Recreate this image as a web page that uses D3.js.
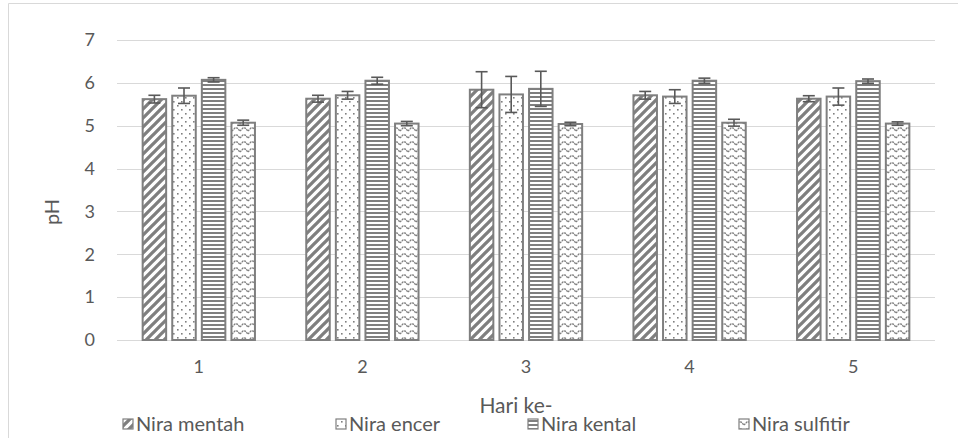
<!DOCTYPE html>
<html><head><meta charset="utf-8">
<script src="https://cdn.jsdelivr.net/npm/d3@7"></script>
<style>
body{margin:0;background:#fff;}
text{font-family:Lato,"Liberation Sans",sans-serif;fill:#595959;}
</style></head>
<body><svg id="c" width="958" height="438"></svg>
<script>
const categories = ["1","2","3","4","5"];
const seriesNames = ["Nira mentah","Nira encer","Nira kental","Nira sulfitir"];
const niraMentah   = [5.62, 5.63, 5.84, 5.71, 5.63];
const niraEncer    = [5.70, 5.71, 5.73, 5.68, 5.68];
const niraKental   = [6.07, 6.05, 5.86, 6.05, 6.04];
const niraSulfitir = [5.07, 5.05, 5.04, 5.07, 5.05];
const errMentah    = [0.09, 0.08, 0.42, 0.09, 0.07];
const errEncer     = [0.18, 0.09, 0.42, 0.16, 0.20];
const errKental    = [0.05, 0.08, 0.41, 0.06, 0.05];
const errSulfitir  = [0.06, 0.05, 0.04, 0.08, 0.04];
const yTicks = [0,1,2,3,4,5,6,7];
const xTitle = "Hari ke-";
const yTitle = "pH";

(function(){
const values = [niraMentah, niraEncer, niraKental, niraSulfitir];
const errors = [errMentah, errEncer, errKental, errSulfitir];
const patIds = ["pDiag","pDots","pHorz","pWave"];

const svg = d3.select("#c");
const gray = "#7f7f7f";
const defs = svg.append("defs");
let p = defs.append("pattern").attr("id","pDiag").attr("patternUnits","userSpaceOnUse").attr("width",9).attr("height",9);
p.append("rect").attr("width",9).attr("height",9).attr("fill","#fff");
p.append("path").attr("d","M-2,11 L11,-2 M-6.5,6.5 L6.5,-6.5 M2.5,15.5 L15.5,2.5").attr("stroke",gray).attr("stroke-width",3.3);
p = defs.append("pattern").attr("id","pDots").attr("patternUnits","userSpaceOnUse").attr("width",8).attr("height",8);
p.append("rect").attr("width",8).attr("height",8).attr("fill","#fff");
p.append("rect").attr("x",1).attr("y",1).attr("width",1.6).attr("height",1.6).attr("fill",gray);
p.append("rect").attr("x",5).attr("y",5).attr("width",1.6).attr("height",1.6).attr("fill",gray);
p = defs.append("pattern").attr("id","pHorz").attr("patternUnits","userSpaceOnUse").attr("width",4).attr("height",4);
p.append("rect").attr("width",4).attr("height",4).attr("fill","#fff");
p.append("rect").attr("y",0).attr("width",4).attr("height",2).attr("fill",gray);
p = defs.append("pattern").attr("id","pWave").attr("patternUnits","userSpaceOnUse").attr("width",8).attr("height",7);
p.append("rect").attr("width",8).attr("height",7).attr("fill","#fff");
p.append("path").attr("d","M0,5 L2,3 L3,2 L5,2 L6,3 L8,5").attr("fill","none").attr("stroke",gray).attr("stroke-width",1.3).attr("stroke-dasharray","2,0.7");

svg.append("path").attr("d","M8.5,460 L8.5,3.5 L980,3.5").attr("fill","none").attr("stroke","#d9d9d9");

const pl = 117, pr = 935, pt = 40, pb = 340;
const x = d3.scaleBand().domain(categories).range([pl,pr]).padding(0);
const y = d3.scaleLinear().domain([0,7]).range([pb,pt]);
const pitch = 29.6, bw = 23.5;

svg.append("g").selectAll("line").data(yTicks).join("line")
  .attr("x1",pl).attr("x2",pr).attr("y1",d=>Math.round(y(d))+0.5).attr("y2",d=>Math.round(y(d))+0.5)
  .attr("stroke","#d9d9d9").attr("stroke-width",1.2);

svg.append("g").selectAll("text").data(yTicks).join("text")
  .attr("x",95).attr("y",d=>y(d)).attr("dy","0.35em").attr("text-anchor","end")
  .attr("font-size",18).text(d=>d);

values.forEach((vals,si)=>{
  const g = svg.append("g");
  g.selectAll("rect").data(vals).join("rect")
    .attr("x",(d,i)=>x(categories[i])+x.bandwidth()/2+(si-1.5)*pitch-bw/2)
    .attr("y",d=>y(d)).attr("width",bw).attr("height",d=>y(0)-y(d))
    .attr("fill",`url(#${patIds[si]})`).attr("stroke",gray).attr("stroke-width",2);
  const cx = i=>x(categories[i])+x.bandwidth()/2+(si-1.5)*pitch;
  const eg = svg.append("g").attr("stroke","#595959").attr("stroke-width",1.6);
  vals.forEach((v,i)=>{
    const e = errors[si][i];
    eg.append("line").attr("x1",cx(i)).attr("x2",cx(i)).attr("y1",y(v+e)).attr("y2",y(v-e));
    eg.append("line").attr("x1",cx(i)-6).attr("x2",cx(i)+6).attr("y1",y(v+e)).attr("y2",y(v+e));
    eg.append("line").attr("x1",cx(i)-6).attr("x2",cx(i)+6).attr("y1",y(v-e)).attr("y2",y(v-e));
  });
});

svg.append("g").selectAll("text").data(categories).join("text")
  .attr("x",d=>x(d)+x.bandwidth()/2).attr("y",367).attr("dy","0.35em").attr("text-anchor","middle")
  .attr("font-size",18).text(d=>d);

svg.append("text").attr("x",516).attr("y",406).attr("dy","0.35em").attr("text-anchor","middle").attr("font-size",21).text(xTitle);
svg.append("text").attr("transform","translate(52,212) rotate(-90)").attr("dy","0.35em").attr("text-anchor","middle").attr("font-size",20).text(yTitle);

const legX = [123, 336, 528, 739];
const lg = svg.append("g");
seriesNames.forEach((n,i)=>{
  lg.append("rect").attr("x",legX[i]).attr("y",419).attr("width",10).attr("height",10)
    .attr("fill",`url(#${patIds[i]})`).attr("stroke",gray).attr("stroke-width",1.2);
  lg.append("text").attr("x",legX[i]+13).attr("y",424).attr("dy","0.35em").attr("font-size",20).text(n);
});
})();
</script></body></html>
